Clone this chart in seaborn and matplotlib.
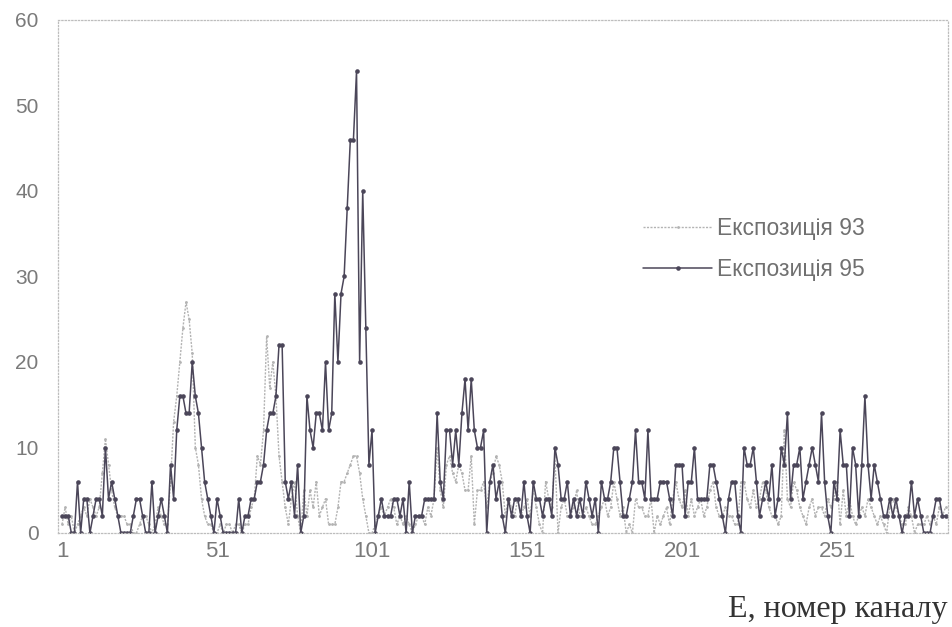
import numpy as np
import pandas as pd
import matplotlib
matplotlib.use("Agg")
import matplotlib.pyplot as plt
import seaborn as sns

# дані (канали 1..286)
exp95 = [
    2, 2, 2, 0, 0, 6, 0, 4, 4, 0, 2, 4, 4, 2, 10, 4, 6, 4, 2, 0,
    0, 0, 0, 2, 4, 4, 2, 0, 0, 6, 0, 2, 4, 2, 0, 8, 4, 12, 16, 16,
    14, 14, 20, 16, 14, 10, 6, 4, 2, 0, 4, 2, 0, 0, 0, 0, 0, 4, 0, 2,
    2, 4, 4, 6, 6, 8, 12, 14, 14, 16, 22, 22, 6, 4, 6, 2, 8, 0, 2, 16,
    12, 10, 14, 14, 12, 20, 12, 14, 28, 20, 28, 30, 38, 46, 46, 54, 20, 40, 24, 8,
    12, 0, 2, 4, 2, 2, 2, 4, 4, 2, 4, 0, 6, 0, 2, 2, 2, 4, 4, 4,
    4, 14, 6, 4, 12, 12, 8, 12, 8, 14, 18, 12, 18, 12, 10, 10, 12, 0, 6, 8,
    4, 6, 2, 0, 4, 2, 4, 4, 2, 6, 2, 0, 6, 4, 4, 2, 4, 4, 2, 10,
    8, 4, 4, 6, 2, 4, 2, 4, 2, 6, 4, 2, 4, 0, 6, 4, 4, 6, 10, 10,
    6, 2, 2, 4, 6, 12, 6, 6, 4, 12, 4, 4, 4, 6, 6, 6, 4, 2, 8, 8,
    8, 2, 6, 6, 10, 4, 4, 4, 4, 8, 8, 6, 4, 2, 0, 4, 6, 6, 2, 0,
    10, 8, 8, 10, 6, 2, 4, 6, 4, 8, 2, 4, 10, 8, 14, 4, 8, 8, 10, 4,
    6, 8, 10, 8, 6, 14, 6, 2, 0, 6, 4, 12, 8, 8, 2, 10, 8, 2, 8, 16,
    8, 4, 8, 6, 4, 2, 2, 4, 2, 4, 2, 0, 2, 2, 6, 2, 4, 2, 0, 0,
    0, 2, 4, 4, 2, 2,
]
exp93 = [
    1, 3, 1, 2, 0, 1, 2, 3, 2, 4, 3, 2, 3, 7, 11, 8, 5, 3, 2, 2,
    2, 1, 1, 0, 0, 1, 2, 2, 1, 0, 1, 3, 2, 1, 1, 6, 13, 16, 20, 24,
    27, 25, 21, 10, 8, 4, 2, 1, 1, 0, 0, 1, 0, 1, 1, 0, 1, 1, 0, 1,
    1, 3, 4, 9, 8, 12, 23, 17, 20, 16, 9, 6, 3, 1, 4, 6, 2, 0, 5, 2,
    5, 3, 6, 2, 3, 4, 1, 1, 1, 3, 6, 6, 7, 8, 9, 9, 7, 4, 2, 0,
    0, 1, 2, 3, 2, 3, 4, 3, 1, 2, 1, 2, 1, 0, 1, 2, 2, 1, 3, 2,
    4, 10, 5, 3, 8, 9, 7, 6, 8, 7, 5, 5, 9, 1, 5, 5, 6, 3, 6, 7,
    9, 8, 6, 2, 4, 3, 2, 4, 2, 3, 4, 2, 5, 3, 1, 0, 6, 4, 3, 9,
    0, 3, 4, 2, 2, 3, 5, 2, 2, 3, 2, 1, 1, 2, 3, 4, 2, 3, 6, 4,
    2, 3, 0, 1, 0, 4, 3, 3, 2, 2, 4, 0, 2, 1, 2, 3, 1, 4, 6, 4,
    3, 5, 2, 4, 2, 3, 4, 2, 3, 5, 6, 3, 2, 2, 3, 2, 2, 1, 1, 6,
    6, 4, 3, 5, 3, 4, 6, 5, 3, 2, 2, 1, 2, 12, 4, 3, 6, 5, 3, 2,
    1, 3, 4, 2, 3, 3, 2, 4, 3, 4, 6, 1, 5, 2, 4, 2, 1, 2, 3, 2,
    4, 3, 2, 1, 2, 1, 0, 3, 4, 3, 2, 1, 1, 3, 2, 0, 1, 1, 1, 2,
    1, 2, 1, 3, 2, 3,
]
channels = list(range(1, len(exp95) + 1))
x_ticks = [1, 51, 101, 151, 201, 251]
y_ticks = [0, 10, 20, 30, 40, 50, 60]
labels = ["Експозиція 93", "Експозиція 95"]

sns.set_style("white")
plt.rcParams["font.family"] = ["Liberation Sans", "DejaVu Sans"]

df = pd.DataFrame({"канал": channels, labels[0]: exp93, labels[1]: exp95})

fig = plt.figure(figsize=(9.52, 6.27), dpi=100)
ax = fig.add_axes([58 / 952, 1 - 533 / 627, 890 / 952, 513 / 627])

sns.lineplot(data=df, x="канал", y=labels[0], ax=ax, color="#b3b3b3", lw=1.0,
             linestyle=(0, (1.5, 1)), marker="o", markersize=2, markeredgewidth=0,
             label=labels[0])
sns.lineplot(data=df, x="канал", y=labels[1], ax=ax, color="#4b4659", lw=1.1,
             marker="o", markersize=3.3, markeredgewidth=0, label=labels[1])

ax.set_xlim(-0.3, 286.8)
ax.set_ylim(0, 60)
ax.set_xticks(x_ticks)
ax.set_yticks(y_ticks)
ax.set_xlabel("")
ax.set_ylabel("")
ax.tick_params(axis="both", length=0)
ax.tick_params(axis="y", pad=14, labelsize=15, labelcolor="#7a7a7a")
ax.tick_params(axis="x", pad=6, labelsize=16, labelcolor="#7a7a7a")

for side in ["top", "left", "right", "bottom"]:
    ax.spines[side].set_visible(True)
    ax.spines[side].set_linestyle(":")
    ax.spines[side].set_color("#bdbdbd")
    ax.spines[side].set_linewidth(0.9)

leg = ax.legend(loc="upper left", bbox_to_anchor=(632 / 952, 1 - 206 / 627),
                bbox_transform=fig.transFigure, frameon=False, fontsize=16.5,
                handlelength=3.0, handletextpad=0.2, labelspacing=0.75, borderpad=0)
for t in leg.get_texts():
    t.set_color("#707070")

fig.text(948 / 952, 1 - 610 / 627, "E, номер каналу", ha="right", va="center",
         fontsize=23, color="#333333", family=["Liberation Serif", "DejaVu Serif"])

fig.savefig("out.png", dpi=100)
